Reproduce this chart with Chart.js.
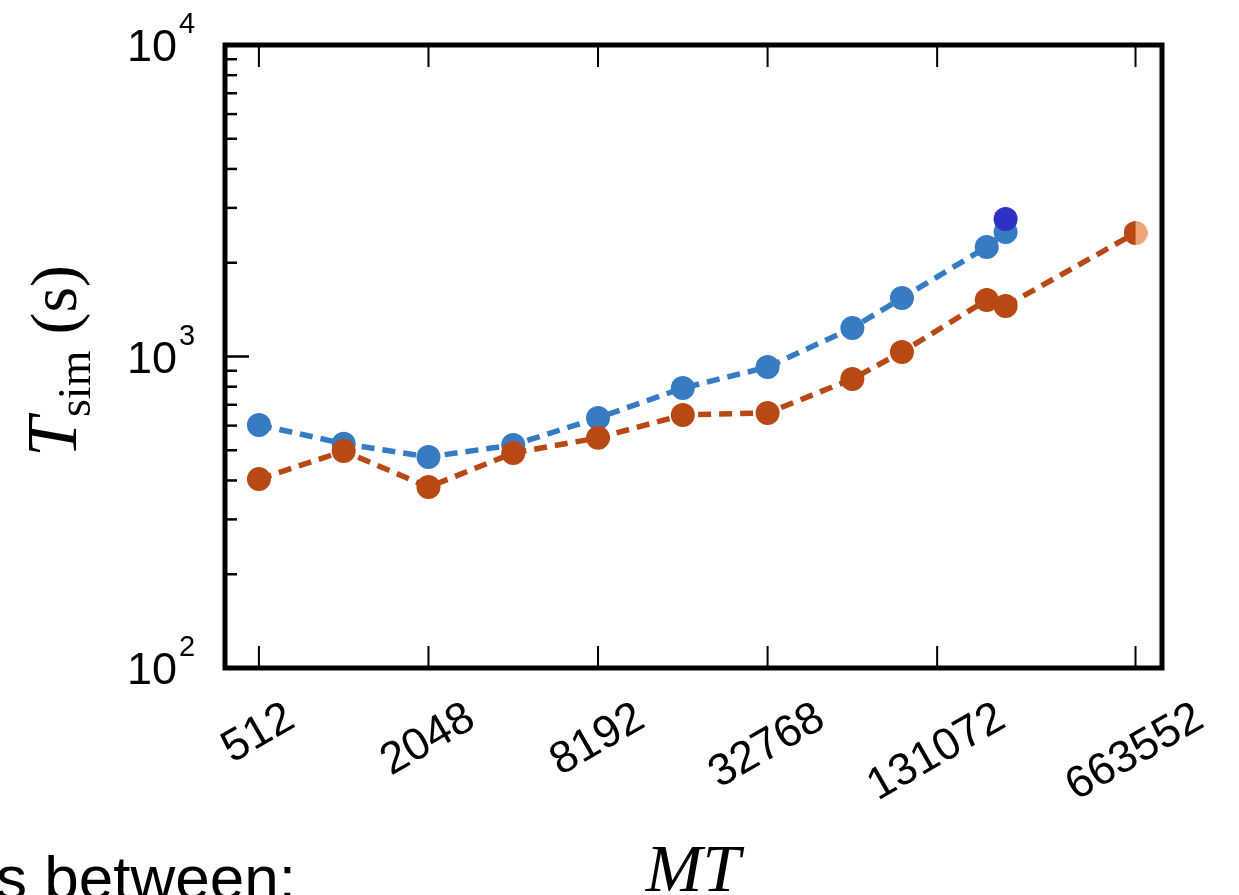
<!DOCTYPE html>
<html>
<head>
<meta charset="utf-8">
<script src="https://cdn.jsdelivr.net/npm/chart.js@4/dist/chart.umd.min.js"></script>
<style>
  body { margin: 0; background: #fff; overflow: hidden; }
  #wrap { position: relative; width: 1239px; height: 895px; }
  #simChart { position: absolute; left: 0; top: 0; }
  .slideText { position: absolute; left: -4px; top: 847px; font: 62px "Liberation Sans", Arial, sans-serif; line-height: 62px; color: #000; white-space: nowrap; }
</style>
</head>
<body>
<div id="wrap">
  <canvas id="simChart" width="1239" height="895"></canvas>
  <div class="slideText">s between:</div>
</div>
<script>
// MT values and simulation times (s)
const mtTicks = [512, 2048, 8192, 32768, 131072, 663552];
const mtBlue = [512, 1024, 2048, 4096, 8192, 16384, 32768, 65536, 98304, 196608, 229376];
const tBlue = [603, 525, 476, 520, 635, 792, 925, 1235, 1541, 2246, 2510];
const mtRed = [512, 1024, 2048, 4096, 8192, 16384, 32768, 65536, 98304, 196608, 229376, 663552];
const tRed = [404, 497, 381, 490, 548, 649, 659, 847, 1034, 1519, 1453, 2492];
const mtExtra = [229376];
const tExtra = [2763];
const yMajor = [100, 1000, 10000];
const yExp = ["2", "3", "4"];

const blue = "#377cc2";
const red = "#b84914";
const darkBlue = "#3030c4";
const lightOrange = "#f0a378";

function toPoints(xs, ys) {
  return xs.map((x, i) => ({ x: x, y: ys[i] }));
}

// half filled marker (left dark, right light) for the last red point
function halfMarker(r, left, right) {
  const c = document.createElement("canvas");
  c.width = c.height = 2 * r;
  const g = c.getContext("2d");
  g.fillStyle = left;
  g.beginPath();
  g.arc(r, r, r, Math.PI / 2, Math.PI * 1.5);
  g.fill();
  g.fillStyle = right;
  g.beginPath();
  g.arc(r, r, r, -Math.PI / 2, Math.PI / 2);
  g.fill();
  return c;
}
const halfPt = halfMarker(12, red, lightOrange);

const sansFont = '"Liberation Sans", Arial, sans-serif';
const serifFont = '"Liberation Serif", "Times New Roman", serif';

const framePlugin = {
  id: "frame",
  afterDatasetsDraw(chart) {
    const ctx = chart.ctx;
    const a = chart.chartArea;
    const xs = chart.scales.x;
    const ys = chart.scales.y;
    ctx.save();
    ctx.strokeStyle = "#000";
    ctx.fillStyle = "#000";

    // x ticks, bottom and top, pointing inwards
    ctx.lineWidth = 2;
    mtTicks.forEach(t => {
      const x = xs.getPixelForValue(t);
      ctx.beginPath();
      ctx.moveTo(x, a.bottom); ctx.lineTo(x, a.bottom - 22);
      ctx.moveTo(x, a.top); ctx.lineTo(x, a.top + 22);
      ctx.stroke();
    });

    // y minor and major ticks on the left
    ctx.lineWidth = 2.5;
    [100, 1000].forEach(d => {
      for (let k = 2; k <= 9; k++) {
        const y = ys.getPixelForValue(k * d);
        ctx.beginPath();
        ctx.moveTo(a.left, y); ctx.lineTo(a.left + 12, y);
        ctx.stroke();
      }
    });
    const y3 = ys.getPixelForValue(1000);
    ctx.beginPath();
    ctx.moveTo(a.left, y3); ctx.lineTo(a.left + 24, y3);
    ctx.stroke();

    // box
    ctx.lineWidth = 5;
    ctx.strokeRect(a.left, a.top, a.right - a.left, a.bottom - a.top);

    // y labels 10^n
    yMajor.forEach((v, i) => {
      const y = ys.getPixelForValue(v);
      ctx.font = "45px " + sansFont;
      ctx.textAlign = "right";
      ctx.textBaseline = "alphabetic";
      ctx.fillText("10", 177, y + 16);
      ctx.font = "29px " + sansFont;
      ctx.textAlign = "left";
      ctx.fillText(yExp[i], 179, y - 12);
    });

    // rotated x labels
    ctx.font = "45px " + sansFont;
    ctx.textAlign = "left";
    ctx.textBaseline = "alphabetic";
    const ang = Math.PI / 6;
    mtTicks.forEach(t => {
      const label = String(t);
      const m = ctx.measureText(label);
      const w = m.width;
      const asc = m.actualBoundingBoxAscent;
      const desc = m.actualBoundingBoxDescent;
      const ext = w * Math.sin(ang) + (asc + desc) * Math.cos(ang);
      const x = xs.getPixelForValue(t) - 2;
      const cy = a.bottom + 31 + ext / 2;
      ctx.save();
      ctx.translate(x, cy);
      ctx.rotate(-ang);
      ctx.fillText(label, -w / 2, (asc - desc) / 2);
      ctx.restore();
    });

    // x title
    ctx.font = "italic 68px " + serifFont;
    ctx.textAlign = "center";
    ctx.fillText("MT", 693, 891);

    // y title T_sim (s)
    ctx.save();
    ctx.translate(76, 361);
    ctx.rotate(-Math.PI / 2);
    ctx.textAlign = "left";
    const fT = "italic 72px " + serifFont;
    const fSub = "46px " + serifFont;
    const fS = "66px " + serifFont;
    ctx.font = fT; const wT = ctx.measureText("T").width;
    ctx.font = fSub; const wSub = ctx.measureText("sim").width;
    ctx.font = fS; const wS = ctx.measureText("(s)").width;
    const gap = 16;
    let x0 = -(wT + wSub + gap + wS) / 2;
    ctx.font = fT; ctx.fillText("T", x0, 0);
    ctx.font = fSub; ctx.fillText("sim", x0 + wT, 14);
    ctx.font = fS; ctx.fillText("(s)", x0 + wT + wSub + gap, 0);
    ctx.restore();

    ctx.restore();
  }
};

new Chart("simChart", {
  type: "line",
  data: {
    datasets: [
      {
        data: toPoints(mtExtra, tExtra),
        showLine: false,
        backgroundColor: darkBlue,
        borderColor: darkBlue,
        pointRadius: 12,
        pointBorderWidth: 0,
        order: 0
      },
      {
        data: toPoints(mtRed, tRed),
        borderColor: red,
        backgroundColor: red,
        borderWidth: 5.5,
        borderDash: [13, 8],
        pointRadius: 12,
        pointBorderWidth: 0,
        pointStyle: ctx => (ctx.dataIndex === mtRed.length - 1 ? halfPt : "circle"),
        order: 1
      },
      {
        data: toPoints(mtBlue, tBlue),
        borderColor: blue,
        backgroundColor: blue,
        borderWidth: 5.5,
        borderDash: [13, 8],
        pointRadius: 12,
        pointBorderWidth: 0,
        order: 2
      }
    ]
  },
  options: {
    responsive: false,
    animation: false,
    clip: false,
    layout: { padding: { left: 225, top: 45, right: 77, bottom: 227 } },
    plugins: {
      legend: { display: false },
      tooltip: { enabled: false },
      title: { display: false }
    },
    scales: {
      x: { type: "logarithmic", min: 388, max: 824000, display: false },
      y: { type: "logarithmic", min: 100, max: 10000, display: false }
    }
  },
  plugins: [framePlugin]
});
</script>
</body>
</html>
